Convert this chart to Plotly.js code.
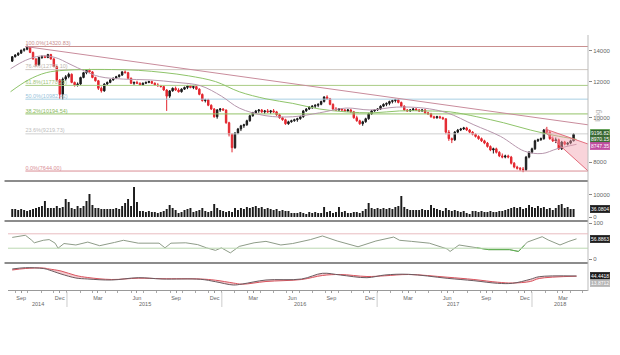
<!DOCTYPE html>
<html><head><meta charset="utf-8">
<script src="https://cdn.plot.ly/plotly-3.0.1.min.js"></script>
<style>html,body{margin:0;padding:0;background:#fff;}#chart{width:620px;height:355px;}</style>
</head><body><div id="chart"></div>
<script>
// ---------- DATA ----------
const startDate = '2014-08-25';
const open = [13300,13600,13720,13850,14050,14120,14300,13900,13450,13050,13550,13600,13550,13750,13450,12950,12100,11250,12150,12300,
12450,11950,11800,11850,12250,12550,12700,12600,12250,12050,11600,11450,11850,11950,12100,12200,12300,12400,12600,12550,
12200,11900,11950,11900,11800,11900,11950,12000,11900,11800,11750,11700,11500,11150,11450,11600,11500,11400,11550,11650,
11750,11650,11700,11550,11250,10900,10950,10650,10450,10050,10400,10450,10400,9750,9200,8600,9250,9450,9600,9650,
9850,10100,10250,10350,10400,10300,10350,10300,10350,10300,10150,10000,9900,9700,9800,9850,9900,9950,10050,10350,
10450,10550,10600,10650,10700,10850,11100,11000,10700,10450,10400,10450,10400,10350,10400,10300,10000,9850,9700,9800,
9950,10200,10350,10400,10450,10600,10700,10750,10850,10900,10950,10800,10600,10400,10350,10400,10450,10400,10350,10400,
10250,10200,10050,10000,10050,10000,9950,9300,9000,8950,9300,9400,9450,9500,9400,9300,9200,9100,9000,8900,
8800,8650,8500,8550,8400,8250,8200,8250,8200,7950,7800,7750,7720,7700,8200,8400,8550,8900,8950,9000,
9400,9300,9000,8900,8950,8550,8850,8750,8800,8900];
const high = [13650,13780,13900,14100,14200,14390,14320,13950,13500,13600,13700,13700,13800,13800,13500,13000,12150,12250,12400,12550,
12500,12000,11950,12300,12600,12750,12800,12650,12300,12100,11700,11900,12000,12150,12250,12350,12450,12650,12700,12600,
12250,12000,12050,11950,11950,12000,12050,12050,11950,11900,11800,11750,11550,11500,11650,11700,11600,11600,11700,11800,
11800,11750,11750,11600,11300,11000,11000,10700,10500,10450,10500,10500,10420,9800,9250,9300,9500,9650,9700,9900,
10150,10300,10400,10450,10450,10400,10450,10400,10450,10350,10200,10050,9950,9850,9900,9950,10000,10100,10400,10500,
10600,10650,10700,10750,10900,11150,11200,11050,10750,10550,10500,10500,10450,10450,10450,10350,10100,9900,9850,10000,
10250,10400,10450,10500,10650,10750,10800,10900,10950,11000,10980,10850,10650,10450,10450,10500,10500,10450,10450,10450,
10300,10250,10100,10100,10100,10050,9950,9400,9050,9350,9450,9500,9550,9550,9450,9350,9250,9150,9050,8950,
8850,8700,8600,8600,8450,8350,8300,8300,8250,8000,7850,7800,7800,8250,8450,8600,8950,9000,9050,9450,
9550,9350,9100,9050,9000,8900,8900,8850,8950,9250];
const low = [13250,13550,13650,13800,13950,14050,13850,13400,12950,13000,13450,13500,13500,13400,12900,12000,11000,10950,12050,12200,
11900,11700,11700,11800,12200,12450,12550,12200,12000,11500,11350,11400,11800,11900,12050,12150,12250,12350,12500,12150,
11850,11800,11850,11750,11750,11850,11900,11850,11750,11700,11650,11450,10350,11050,11400,11450,11350,11350,11500,11550,
11600,11550,11500,11200,10850,10800,10600,10400,10000,9950,10300,10350,9700,9100,8400,8550,9200,9350,9500,9600,
9800,10050,10200,10250,10250,10200,10250,10200,10250,10100,9950,9850,9650,9650,9750,9800,9800,9900,10000,10300,
10400,10450,10500,10550,10650,10800,10950,10650,10400,10350,10350,10350,10300,10300,10250,9950,9800,9650,9600,9750,
9900,10150,10300,10350,10400,10550,10600,10650,10750,10800,10750,10550,10350,10300,10300,10350,10350,10300,10300,10200,
10150,10000,9950,9950,9950,9900,9200,8900,8800,8900,9250,9350,9400,9350,9250,9150,9050,8950,8850,8750,
8600,8450,8350,8350,8200,8150,8150,8150,7900,7750,7700,7650,7600,7650,8150,8350,8500,8850,8900,8950,
9250,8950,8850,8800,8500,8500,8700,8700,8750,8880];
const close = [13600,13720,13850,14050,14120,14300,13900,13450,13050,13550,13600,13550,13750,13450,12950,12100,11250,12150,12300,12450,
11950,11800,11850,12250,12550,12700,12600,12250,12050,11600,11450,11850,11950,12100,12200,12300,12400,12600,12550,12200,
11900,11950,11900,11800,11900,11950,12000,11900,11800,11750,11700,11500,11150,11450,11600,11500,11400,11550,11650,11750,
11650,11700,11550,11250,10900,10950,10650,10450,10050,10400,10450,10400,9750,9200,8600,9250,9450,9600,9650,9850,
10100,10250,10350,10400,10300,10350,10300,10350,10300,10150,10000,9900,9700,9800,9850,9900,9950,10050,10350,10450,
10550,10600,10650,10700,10850,11100,11000,10700,10450,10400,10450,10400,10350,10400,10300,10000,9850,9700,9800,9950,
10200,10350,10400,10450,10600,10700,10750,10850,10900,10950,10800,10600,10400,10350,10400,10450,10400,10350,10400,10250,
10200,10050,10000,10050,10000,9950,9300,9000,8950,9300,9400,9450,9500,9400,9300,9200,9100,9000,8900,8800,
8650,8500,8550,8400,8250,8200,8250,8200,7950,7800,7750,7720,7700,8200,8400,8550,8900,8950,9000,9400,
9300,9000,8900,8950,8550,8850,8750,8800,8900,9196.82];
const volume = [3600,3600,3150,3600,3150,2700,3150,3600,4050,4500,
4950,7200,4050,4050,4050,4950,4050,4500,8100,6750,
4050,3600,4950,4050,4950,7200,10350,5400,4050,4050,
3600,3600,3600,3600,3600,4050,3600,4950,6300,8100,
4950,13500,6750,2700,2700,2250,2700,2250,2250,1800,
2250,2700,3600,5400,4050,3150,1800,2250,3150,3600,
4050,2250,2700,3150,4050,2700,2250,2700,5850,4050,
3150,2700,2250,2700,2250,4050,3150,4050,3600,4500,
4050,4500,4950,4050,4500,3600,4050,3600,3150,3600,
2700,3150,2700,2700,1800,1800,1800,2250,1800,1350,
2250,1800,2250,1800,1800,4500,2250,2700,1800,2250,
4500,2250,2700,1800,1800,2250,2250,1800,2700,3600,
6300,4050,3600,4050,3600,4050,3600,4050,3600,4500,
4950,9450,4500,3600,3150,3150,3150,3150,3600,3150,
3150,5400,4050,3600,3150,2700,4050,3150,2700,3150,
2700,2250,2700,1800,1350,2700,2700,2250,2700,2250,
2250,2700,2250,2250,2700,2700,3150,3600,4050,4500,
4050,4500,3600,4050,5400,4500,4050,4950,4050,4500,
3600,4050,3150,4050,5400,5850,4050,4500,3600,3600];

const fibLabels = ['100.0%','76.4%','61.8%','50.0%','38.2%','23.6%','0.0%'];
const fibValues = [14320.83,12745.10,11770.29,10982.42,10194.54,9219.73,7644.00];
const fibColors = ['#c98f8f','#cfc7c0','#a9cc84','#a8cfe3','#93c267','#cfcfcf','#d98e95'];
const fibTextColors = ['#c98f8f','#bdb5ae','#a0c47a','#98c3da','#8aba5d','#bdbdbd','#d98e95'];
const fibStart = '2014-09-25';
const chartEnd = '2018-05-13';

const maLongDates = ['2014-08-21','2014-10-02','2014-11-13','2014-12-25','2015-02-12','2015-04-16','2015-06-18','2015-08-20','2015-10-15','2015-12-17','2016-02-11','2016-04-14','2016-06-16','2016-08-18','2016-10-20','2016-12-22','2017-02-23','2017-04-27','2017-06-22','2017-08-24','2017-10-26','2017-12-28','2018-02-22','2018-04-16'];
const maLongValues = [11400,12100,12550,12700,12750,12750,12700,12550,12350,12000,11400,11000,10750,10450,10300,10250,10350,10350,10300,10050,9750,9400,9150,8970];
const maMidDates = ['2014-08-21','2014-09-25','2014-10-30','2014-12-04','2015-01-08','2015-02-12','2015-03-19','2015-05-14','2015-07-16','2015-09-17','2015-11-12','2015-12-31','2016-02-11','2016-04-14','2016-06-16','2016-08-18','2016-10-20','2016-12-15','2017-02-16','2017-04-20','2017-06-15','2017-08-17','2017-10-19','2017-12-14','2018-01-25','2018-03-01','2018-04-16'];
const maMidValues = [12800,13350,13650,13550,13100,12650,12300,12150,12100,11950,11750,11150,10500,10100,10050,10250,10500,10400,10550,10500,10250,9650,9100,8450,8350,8550,8747];
const trendDates = ['2014-09-25','2018-05-13'];
const trendValues = [14320,9650];
const channelDates = ['2018-02-01','2018-05-13'];
const channelUpper = [9450,8760];
const channelLower = [9300,7650];

const rsiDates = ['2014-08-25','2014-09-11','2014-09-25','2014-10-09','2014-10-16','2014-11-06','2014-11-20','2014-12-04','2014-12-11','2014-12-25','2015-01-22','2015-02-19','2015-03-19','2015-04-23','2015-05-14','2015-06-18','2015-08-06','2015-08-20','2015-09-03','2015-10-08','2015-11-05','2015-11-26','2015-12-17','2015-12-31','2016-01-21','2016-02-11','2016-03-17','2016-04-14','2016-05-19','2016-06-16','2016-07-28','2016-08-25','2016-09-29','2016-11-17','2016-12-29','2017-02-09','2017-02-23','2017-03-23','2017-05-04','2017-06-15','2017-06-22','2017-07-13','2017-08-24','2017-09-21','2017-11-09','2017-11-30','2017-12-21','2018-01-25','2018-02-08','2018-03-08','2018-03-29','2018-04-16'];
const rsiValues = [60,64,66,53,45,52,54,44,30,43,39,47,37,46,52,44,44,31,44,45,40,31,24,31,17,35,45,49,39,43,54,64,50,34,50,61,52,49,44,28,21,39,31,26,26,21,47,62,53,39,49,56];
const rsiLowDates = ['2017-08-24','2017-09-21','2017-11-09','2017-11-30','2017-12-14'];
const rsiLowValues = [31,26,26,21,38];

const macdDates = ['2014-08-25','2014-09-25','2014-11-06','2014-11-20','2014-12-18','2015-01-22','2015-02-19','2015-04-16','2015-06-18','2015-08-13','2015-11-12','2015-12-17','2016-01-28','2016-02-18','2016-04-14','2016-07-07','2016-08-25','2016-10-06','2016-12-08','2017-01-19','2017-03-16','2017-06-15','2017-08-17','2017-10-12','2017-11-16','2017-12-28','2018-01-18','2018-04-16'];
const macdLine = [21,22.3,21.5,20,16,12,11,10,12.3,11,10.7,8.3,5,6,10,11,16.7,15,12.3,15,15.7,11.7,9.3,6.7,6.7,10.7,13.3,14];
const macdSignal = [20,21.5,22,21,19,14.5,12.5,10.5,11.8,11.3,11,9.8,7,5.8,8.5,10.5,14.5,15.5,13.5,14.2,15.5,12.8,10.5,7.8,7,8.5,11.5,13.8];

const monthTickVals = ['2014-09-15','2014-12-15','2015-03-15','2015-06-15','2015-09-15','2015-12-15','2016-03-15','2016-06-15','2016-09-15','2016-12-15','2017-03-15','2017-06-15','2017-09-15','2017-12-15','2018-03-15'];
const monthTickText = ['Sep','Dec','Mar','Jun','Sep','Dec','Mar','Jun','Sep','Dec','Mar','Jun','Sep','Dec','Mar'];
const yearLabels = ['2014','2015','2016','2017','2018'];
const yearLabelDates = ['2014-10-24','2015-07-04','2016-07-03','2017-06-29','2018-03-08'];
const yearStarts = ['2015-01-01','2016-01-01','2017-01-01','2018-01-01'];

// ---------- BUILD ----------
function weekly(start, n){
  const out=[]; const t0=Date.parse(start+'T00:00:00Z');
  for(let i=0;i<n;i++){ out.push(new Date(t0+i*7*864e5).toISOString().slice(0,10)); }
  return out;
}
const dates = weekly(startDate, close.length);
const H = 355;
const py = p => 1 - p/H;
const FONT = 'Liberation Sans, Arial, sans-serif';

const traces = [];
fibValues.forEach((v,i)=>{
  traces.push({type:'scatter',mode:'lines',x:[fibStart,chartEnd],y:[v,v],xaxis:'x',yaxis:'y',
    line:{color:fibColors[i],width:1},hoverinfo:'skip'});
  traces.push({type:'scatter',mode:'text',x:[fibStart],y:[v],xaxis:'x',yaxis:'y',
    text:[fibLabels[i]+'('+v.toFixed(2)+')'],textposition:'top right',
    textfont:{size:5.5,color:fibTextColors[i],family:FONT},hoverinfo:'skip'});
});
traces.push({type:'scatter',mode:'lines',x:trendDates,y:trendValues,xaxis:'x',yaxis:'y',line:{color:'#c98c9c',width:1}});
traces.push({type:'scatter',mode:'lines',x:maLongDates,y:maLongValues,xaxis:'x',yaxis:'y',line:{color:'#8fc46a',width:1,shape:'spline'}});
traces.push({type:'scatter',mode:'lines',x:maMidDates,y:maMidValues,xaxis:'x',yaxis:'y',line:{color:'#b797ad',width:1,shape:'spline'}});
traces.push({type:'scatter',mode:'lines',x:channelDates,y:channelUpper,xaxis:'x',yaxis:'y',line:{color:'#e26d7c',width:1}});
traces.push({type:'scatter',mode:'lines',x:channelDates,y:channelLower,xaxis:'x',yaxis:'y',line:{color:'#e26d7c',width:1},
  fill:'tonexty',fillcolor:'rgba(242,160,172,0.45)'});
traces.push({type:'candlestick',x:dates,open:open,high:high,low:low,close:close,xaxis:'x',yaxis:'y',
  increasing:{line:{color:'#1b1b1b',width:1},fillcolor:'#1b1b1b'},
  decreasing:{line:{color:'#e3262e',width:1},fillcolor:'#e3262e'},whiskerwidth:0});
traces.push({type:'bar',x:dates,y:volume,xaxis:'x',yaxis:'y2',marker:{color:'#1b1b1b'},width:4.6*864e5});
traces.push({type:'scatter',mode:'lines',x:rsiDates,y:rsiValues,xaxis:'x',yaxis:'y3',line:{color:'#8e9c88',width:1}});
traces.push({type:'scatter',mode:'lines',x:rsiLowDates,y:rsiLowValues,xaxis:'x',yaxis:'y3',line:{color:'#5cb34e',width:1}});
traces.push({type:'scatter',mode:'lines',x:macdDates,y:macdSignal,xaxis:'x',yaxis:'y4',line:{color:'#d9545e',width:1,shape:'spline'}});
traces.push({type:'scatter',mode:'lines',x:macdDates,y:macdLine,xaxis:'x',yaxis:'y4',line:{color:'#6b5b60',width:1,shape:'spline'},
  fill:'tonexty',fillcolor:'rgba(235,140,150,0.45)'});

const axFont = {size:6,color:'#666',family:FONT};
const shapes = [];
[181,221,263].forEach(p=>shapes.push({type:'line',xref:'paper',yref:'paper',x0:-0.006,x1:1,y0:py(p),y1:py(p),line:{color:'#666',width:1.5}}));
shapes.push({type:'line',xref:'paper',yref:'paper',x0:1,x1:1,y0:py(291),y1:py(35),line:{color:'#bbb',width:1}});
shapes.push({type:'line',xref:'paper',yref:'y3',x0:0,x1:1,y0:70,y1:70,line:{color:'#e9bcc0',width:1}});
shapes.push({type:'line',xref:'paper',yref:'y3',x0:0,x1:1,y0:30,y1:30,line:{color:'#bcd8b2',width:1}});
yearStarts.forEach(d=>shapes.push({type:'line',xref:'x',yref:'paper',x0:d,x1:d,y0:py(307),y1:py(292),line:{color:'#ccc',width:1}}));

const annotations = [];
yearLabels.forEach((t,i)=>annotations.push({xref:'x',yref:'paper',x:yearLabelDates[i],y:py(304),yanchor:'middle',
  text:t,showarrow:false,font:{size:5.5,color:'#666',family:FONT}}));
function badge(yref,y,text,bg,border,shift){
  annotations.push({xref:'paper',yref:yref,x:1.004,y:y,xanchor:'left',yanchor:'middle',yshift:shift||0,text:text,showarrow:false,
    font:{size:5,color:'#fff',family:FONT},bgcolor:bg,bordercolor:border||bg,borderwidth:0.5,borderpad:0.5});
}
badge('y',Math.log10(9196.82),'9196.82','#2f5f2c','#6fbf5a',1.5);
badge('y',Math.log10(8970),'8970.15','#3d6b35','#3d6b35',0);
badge('y',Math.log10(8747.35),'8747.35','#c04ca0','#c04ca0',-1.5);
badge('y2',3600,'36.0804','#1b1b1b');
badge('y3',56,'56.8863','#1b1b1b');
badge('y4',14,'44.4418','#1b1b1b');
badge('y4',7,'13.8712','#b5b5b5');
annotations.push({xref:'paper',yref:'paper',x:1.027,y:py(108),text:'Log',textangle:-90,showarrow:false,font:{size:7,color:'#b0b0b0',family:FONT}});

const layout = {
  width:620,height:355,margin:{l:8,r:32,t:0,b:0},
  paper_bgcolor:'#fff',plot_bgcolor:'rgba(0,0,0,0)',showlegend:false,
  font:{family:FONT,size:6,color:'#666'},
  xaxis:{type:'date',range:['2014-08-15',chartEnd],anchor:'y4',rangeslider:{visible:false},
    tickvals:monthTickVals,ticktext:monthTickText,tickfont:{size:5.5,color:'#666',family:FONT},ticks:'outside',ticklen:2,tickcolor:'#999',
    showline:true,linecolor:'#999',linewidth:1,showgrid:false,zeroline:false,
    minor:{dtick:'M1',ticks:'outside',ticklen:1.5,tickcolor:'#aaa',showgrid:false}},
  yaxis:{type:'log',domain:[py(180),py(37)],range:[3.8637,4.17675],side:'right',anchor:'x',
    tickvals:[8000,10000,12000,14000],ticktext:['8000','10000','12000','14000'],tickfont:axFont,
    ticks:'outside',ticklen:3,tickcolor:'#888',showgrid:false,zeroline:false,showline:false},
  yaxis2:{domain:[py(220),py(182)],range:[-1350,15750],side:'right',anchor:'x',
    tickvals:[0,10000],ticktext:['0','10000'],tickfont:axFont,ticks:'outside',ticklen:3,tickcolor:'#888',showgrid:false,zeroline:false},
  yaxis3:{domain:[py(262),py(222)],range:[-8.3,102.8],side:'right',anchor:'x',
    tickvals:[0,100],ticktext:['0','100'],tickfont:axFont,ticks:'outside',ticklen:3,tickcolor:'#888',showgrid:false,zeroline:false},
  yaxis4:{domain:[py(290),py(264)],range:[0,26],side:'right',anchor:'x',showticklabels:false,ticks:'',showgrid:false,zeroline:false},
  shapes:shapes,annotations:annotations
};
Plotly.newPlot('chart',traces,layout,{staticPlot:true,displayModeBar:false});
</script></body></html>
